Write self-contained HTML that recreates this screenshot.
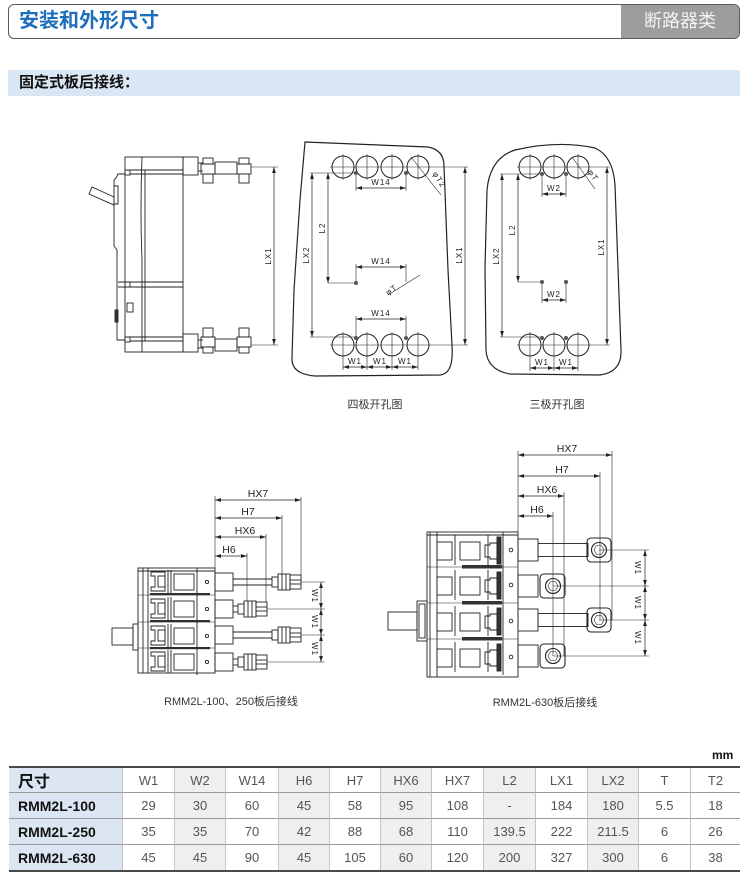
<!DOCTYPE html>
<html><head><meta charset="utf-8">
<style>
*{margin:0;padding:0;box-sizing:border-box}
body{width:750px;height:890px;background:#fff;position:relative;overflow:hidden;font-family:"Liberation Sans","Noto Sans CJK SC",sans-serif}
.hdr{position:absolute;left:8px;top:4px;width:732px;height:35px;border:1px solid #5a5a5a;border-radius:6px;overflow:hidden}
.hdr .t{position:absolute;left:10px;top:0;line-height:33px;font-size:20px;font-weight:bold;color:#1f6ebd;font-family:"Liberation Sans","Noto Sans CJK SC",sans-serif}
.hdr .g{position:absolute;right:0;top:0;width:118px;height:33px;background:#9c9d9f;color:#f2f2f2;font-size:18px;line-height:33px;text-align:center}
.band{position:absolute;left:8px;top:70px;width:732px;height:26px;background:#d9e6f3}
.band span{position:absolute;left:11px;top:0;line-height:26px;font-size:15px;font-weight:bold;color:#111}
svg{position:absolute;left:0;top:0}
.mm{position:absolute;left:712px;top:748px;font-size:12px;font-weight:bold;color:#111}
.tb{position:absolute;left:9px;top:766px;width:731px;border-top:2px solid #4a4a4a;border-bottom:2px solid #4a4a4a;display:grid;grid-template-columns:113px 52px 51px 53px 51px 51px 51px 52px 52px 52px 51px 52px 50px;grid-template-rows:25px 26px 26px 25px}
.tb div{border-left:1px solid #c4c4c4;border-bottom:1px solid #9a9a9a;font-size:13px;color:#555;display:flex;align-items:center;justify-content:center}
.tb .f{background:#dce6f2;border-left:none;justify-content:flex-start;padding-left:9px;font-weight:bold;color:#111;font-size:14px}
.tb .h{font-size:16px}
.tb .s{background:#efefef}
.tb .l{border-bottom:none}
</style></head>
<body>
<div class="hdr"><div class="t">安装和外形尺寸</div><div class="g">断路器类</div></div>
<div class="band"><span>固定式板后接线：</span></div>

<svg width="750" height="890" viewBox="0 0 750 890">
<defs>
<marker id="ar" viewBox="0 0 8 6" refX="8" refY="3" markerWidth="6" markerHeight="4.5" markerUnits="userSpaceOnUse" orient="auto-start-reverse"><path d="M0,0.5 L8,3 L0,5.5 z" fill="#222"/></marker>
<g id="pa">
 <path d="M151 4 h14 v19 h-14 v-4 h4 v-11 h-4 z"/>
 <rect x="158" y="8" width="7" height="11"/>
 <line x1="168" y1="2" x2="168" y2="25"/>
 <line x1="171" y1="2" x2="171" y2="25"/>
 <rect x="174" y="6" width="20" height="16"/>
 <line x1="197" y1="0" x2="197" y2="27"/>
 <circle cx="207" cy="14" r="1.6"/>
</g>
<g id="pb">
 <rect x="437" y="10" width="15" height="18"/>
 <line x1="455" y1="3" x2="455" y2="33"/>
 <rect x="460" y="10" width="20" height="18"/>
 <line x1="488" y1="3" x2="488" y2="33"/>
 <path d="M485 13 h5 v-2 h7 v16 h-7 v-2 h-5 z"/>
 <rect x="497" y="5" width="4" height="27" fill="#333"/>
 <line x1="503" y1="0" x2="503" y2="36"/>
 <circle cx="511" cy="18" r="1.8"/>
</g>
<g id="nl">
 <rect x="0" y="-5" width="6" height="10"/>
 <rect x="6" y="-8" width="12" height="16"/>
 <line x1="10" y1="-8" x2="10" y2="8"/>
 <line x1="14" y1="-8" x2="14" y2="8"/>
 <rect x="18" y="-7" width="11" height="14"/>
 <line x1="18" y1="-2" x2="29" y2="-2"/>
 <line x1="18" y1="2" x2="29" y2="2"/>
</g>
</defs>

<g stroke="#222" stroke-width="0.9" fill="none">
<!-- ===== Side view ===== -->
<rect x="125" y="157" width="58" height="195"/>
<path d="M142 157 Q140 210 142 260 L142 352"/>
<line x1="145" y1="170" x2="145" y2="341"/>
<line x1="125" y1="170" x2="183" y2="170"/>
<line x1="130" y1="174" x2="183" y2="174"/>
<line x1="118" y1="282" x2="183" y2="282"/>
<line x1="118" y1="287" x2="183" y2="287"/>
<line x1="125" y1="337" x2="183" y2="337"/>
<line x1="130" y1="341" x2="183" y2="341"/>
<rect x="125" y="170" width="5" height="5"/>
<rect x="125" y="282" width="5" height="5"/>
<rect x="125" y="337" width="5" height="5"/>
<path d="M125 174 L118 174 L116 178 L114 180 L114 246 L117 250 L117 340 L125 340"/>
<path d="M114 186 L118 186 L118 204 L114 204"/>
<polygon points="89,194 92,187 114,197 114,205"/>
<rect x="127" y="303" width="6" height="9"/>
<rect x="115" y="310" width="3" height="12" fill="#333"/>
<rect x="183" y="157" width="15" height="18"/>
<rect x="183" y="334" width="15" height="18"/>
<line x1="198" y1="163" x2="203" y2="163"/><line x1="198" y1="171" x2="203" y2="171"/>
<rect x="203" y="158" width="10" height="6"/><rect x="201" y="164" width="14" height="10"/><rect x="203" y="174" width="10" height="9"/>
<rect x="215" y="162" width="22" height="12"/>
<rect x="239" y="158" width="10" height="6"/><rect x="237" y="164" width="14" height="10"/><rect x="239" y="174" width="10" height="9"/>
<line x1="198" y1="340" x2="203" y2="340"/><line x1="198" y1="348" x2="203" y2="348"/>
<rect x="203" y="328" width="10" height="9"/><rect x="201" y="337" width="14" height="10"/><rect x="203" y="347" width="10" height="6"/>
<rect x="215" y="339" width="22" height="12"/>
<rect x="239" y="328" width="10" height="9"/><rect x="237" y="337" width="14" height="10"/><rect x="239" y="347" width="10" height="6"/>
<line x1="251" y1="167" x2="278" y2="167" stroke-width="0.6"/>
<line x1="251" y1="345" x2="278" y2="345" stroke-width="0.6"/>
<line x1="274" y1="167" x2="274" y2="345" stroke-width="0.7" marker-start="url(#ar)" marker-end="url(#ar)"/>

<!-- ===== Four-pole ===== -->
<path d="M305 142 L428 147 Q444 150 444 166 L448 270 L452 345 Q454 374 440 375 L315 376 Q291 374 292 358 L294 290 L300 200 Z" stroke-width="1.2"/>
<g stroke-width="1">
<circle cx="343" cy="167" r="11"/><circle cx="367" cy="167" r="11"/><circle cx="392" cy="167" r="11"/><circle cx="418" cy="167" r="11"/>
<circle cx="343" cy="345" r="11"/><circle cx="367" cy="345" r="11"/><circle cx="392" cy="345" r="11"/><circle cx="418" cy="345" r="11"/>
</g>
<g stroke-width="0.6">
<line x1="330" y1="167" x2="468" y2="167"/>
<line x1="330" y1="345" x2="468" y2="345"/>
<line x1="343" y1="154" x2="343" y2="180"/><line x1="367" y1="154" x2="367" y2="180"/><line x1="392" y1="154" x2="392" y2="180"/><line x1="418" y1="154" x2="418" y2="180"/>
<line x1="343" y1="332" x2="343" y2="370"/><line x1="367" y1="332" x2="367" y2="370"/><line x1="392" y1="332" x2="392" y2="370"/><line x1="418" y1="332" x2="418" y2="370"/>
<line x1="310" y1="173" x2="356" y2="173"/>
<line x1="310" y1="337" x2="356" y2="337"/>
<line x1="356" y1="175" x2="356" y2="191"/><line x1="406" y1="175" x2="406" y2="191"/>
<line x1="356" y1="336" x2="356" y2="316"/><line x1="406" y1="336" x2="406" y2="316"/>
<line x1="328" y1="283" x2="356" y2="283"/>
<line x1="356" y1="283" x2="356" y2="264"/><line x1="406" y1="264" x2="406" y2="282"/>
<line x1="411" y1="157" x2="441" y2="195"/>
<line x1="388" y1="295" x2="420" y2="275"/>
</g>
<g stroke-width="0.7" marker-start="url(#ar)" marker-end="url(#ar)">
<line x1="356" y1="188" x2="406" y2="188"/>
<line x1="356" y1="267" x2="406" y2="267"/>
<line x1="356" y1="319" x2="406" y2="319"/>
<line x1="312" y1="173" x2="312" y2="337"/>
<line x1="328" y1="173" x2="328" y2="283"/>
<line x1="465" y1="167" x2="465" y2="345"/>
<line x1="343" y1="367" x2="367" y2="367"/>
<line x1="367" y1="367" x2="392" y2="367"/>
<line x1="392" y1="367" x2="418" y2="367"/>
</g>
<g fill="#555" stroke="none"><circle cx="356" cy="173" r="2"/><circle cx="406" cy="173" r="2"/><circle cx="356" cy="338" r="2"/><circle cx="406" cy="338" r="2"/><circle cx="356" cy="283" r="2"/></g>

<!-- ===== Three-pole ===== -->
<path d="M515 150 Q558 140 595 148 Q613 156 615 185 L618 268 L621 350 Q622 372 600 375 L510 374 Q487 370 486 350 L485 268 L487 190 Q490 158 515 150 Z" stroke-width="1.2"/>
<g stroke-width="1">
<circle cx="530" cy="167" r="11"/><circle cx="554" cy="167" r="11"/><circle cx="578" cy="167" r="11"/>
<circle cx="530" cy="345" r="11"/><circle cx="554" cy="345" r="11"/><circle cx="578" cy="345" r="11"/>
</g>
<g stroke-width="0.6">
<line x1="517" y1="167" x2="610" y2="167"/>
<line x1="517" y1="345" x2="610" y2="345"/>
<line x1="530" y1="154" x2="530" y2="180"/><line x1="554" y1="154" x2="554" y2="180"/><line x1="578" y1="154" x2="578" y2="180"/>
<line x1="530" y1="332" x2="530" y2="371"/><line x1="554" y1="332" x2="554" y2="371"/><line x1="578" y1="332" x2="578" y2="371"/>
<line x1="500" y1="174" x2="542" y2="174"/>
<line x1="500" y1="337" x2="542" y2="337"/>
<line x1="542" y1="176" x2="542" y2="197"/><line x1="566" y1="176" x2="566" y2="197"/>
<line x1="518" y1="282" x2="542" y2="282"/>
<line x1="542" y1="284" x2="542" y2="303"/><line x1="566" y1="284" x2="566" y2="303"/>
<line x1="572" y1="157" x2="595" y2="189"/>
</g>
<g stroke-width="0.7" marker-start="url(#ar)" marker-end="url(#ar)">
<line x1="542" y1="194" x2="566" y2="194"/>
<line x1="542" y1="300" x2="566" y2="300"/>
<line x1="502" y1="174" x2="502" y2="337"/>
<line x1="518" y1="174" x2="518" y2="282"/>
<line x1="607" y1="167" x2="607" y2="345"/>
<line x1="530" y1="368" x2="554" y2="368"/>
<line x1="554" y1="368" x2="578" y2="368"/>
</g>
<g fill="#555" stroke="none"><circle cx="542" cy="174" r="2"/><circle cx="566" cy="174" r="2"/><circle cx="542" cy="282" r="2"/><circle cx="566" cy="282" r="2"/><circle cx="542" cy="338" r="2"/><circle cx="566" cy="338" r="2"/></g>

<!-- ===== RMM2L-100/250 ===== -->
<rect x="138" y="568" width="77" height="105"/>
<line x1="138" y1="571" x2="215" y2="571"/>
<line x1="143" y1="568" x2="143" y2="673"/>
<line x1="148" y1="568" x2="148" y2="673"/>
<use href="#pa" transform="translate(0,568)"/>
<use href="#pa" transform="translate(0,595)"/>
<use href="#pa" transform="translate(0,622)"/>
<use href="#pa" transform="translate(0,648)"/>
<g fill="#333" stroke="none">
<rect x="150" y="593" width="60" height="2.2"/>
<rect x="150" y="620" width="60" height="2.2"/>
<rect x="150" y="647" width="60" height="2.2"/>
</g>
<line x1="138" y1="595" x2="215" y2="595" stroke-width="0.6"/>
<line x1="138" y1="622" x2="215" y2="622" stroke-width="0.6"/>
<line x1="138" y1="648" x2="215" y2="648" stroke-width="0.6"/>
<rect x="112" y="628" width="21" height="17"/>
<rect x="133" y="624" width="5" height="26"/>
<!-- sleeves & studs -->
<rect x="215" y="573" width="18" height="18"/><rect x="215" y="600" width="18" height="18"/>
<rect x="215" y="626" width="18" height="18"/><rect x="215" y="653" width="18" height="18"/>
<line x1="233" y1="579" x2="272" y2="579"/><line x1="233" y1="585" x2="272" y2="585"/>
<line x1="233" y1="606" x2="238" y2="606"/><line x1="233" y1="612" x2="238" y2="612"/>
<line x1="233" y1="632" x2="272" y2="632"/><line x1="233" y1="638" x2="272" y2="638"/>
<line x1="233" y1="659" x2="238" y2="659"/><line x1="233" y1="665" x2="238" y2="665"/>
<use href="#nl" transform="translate(272,582)"/>
<use href="#nl" transform="translate(238,609)"/>
<use href="#nl" transform="translate(272,635)"/>
<use href="#nl" transform="translate(238,662)"/>
<g stroke-width="0.6">
<line x1="215" y1="496" x2="215" y2="568"/>
<line x1="301" y1="497" x2="301" y2="575"/>
<line x1="282" y1="515" x2="282" y2="574"/>
<line x1="266" y1="534" x2="266" y2="602"/>
<line x1="247" y1="553" x2="247" y2="601"/>
<line x1="301" y1="582" x2="325" y2="582"/>
<line x1="267" y1="609" x2="325" y2="609"/>
<line x1="301" y1="635" x2="325" y2="635"/>
<line x1="267" y1="662" x2="325" y2="662"/>
</g>
<g stroke-width="0.7" marker-start="url(#ar)" marker-end="url(#ar)">
<line x1="215" y1="500" x2="301" y2="500"/>
<line x1="215" y1="518" x2="282" y2="518"/>
<line x1="215" y1="537" x2="266" y2="537"/>
<line x1="215" y1="556" x2="247" y2="556"/>
<line x1="321" y1="582" x2="321" y2="609"/>
<line x1="321" y1="609" x2="321" y2="635"/>
<line x1="321" y1="635" x2="321" y2="662"/>
</g>

<!-- ===== RMM2L-630 ===== -->
<rect x="427" y="532" width="91" height="145"/>
<line x1="427" y1="535" x2="518" y2="535"/>
<line x1="430" y1="532" x2="430" y2="677"/>
<line x1="437" y1="532" x2="437" y2="677"/>
<use href="#pb" transform="translate(0,532)"/>
<use href="#pb" transform="translate(0,567)"/>
<use href="#pb" transform="translate(0,603)"/>
<use href="#pb" transform="translate(0,639)"/>
<line x1="427" y1="567" x2="518" y2="567" stroke-width="0.6"/>
<line x1="427" y1="603" x2="518" y2="603" stroke-width="0.6"/>
<line x1="427" y1="639" x2="518" y2="639" stroke-width="0.6"/>
<g fill="#333" stroke="none">
<rect x="462" y="565" width="40" height="3.5"/>
<rect x="462" y="601" width="40" height="3.5"/>
<rect x="462" y="637" width="40" height="3.5"/>
</g>
<rect x="388" y="612" width="29" height="18"/>
<rect x="417" y="601" width="10" height="40"/>
<rect x="419" y="604" width="6" height="34"/>
<!-- sleeves -->
<rect x="518" y="539" width="20" height="22"/>
<rect x="518" y="575" width="20" height="22"/>
<rect x="518" y="609" width="20" height="22"/>
<rect x="518" y="645" width="20" height="22"/>
<!-- bars & terminals -->
<rect x="538" y="543.5" width="50" height="13"/>
<rect x="538" y="613.5" width="50" height="13"/>
<g stroke-width="1.1">
<rect x="587" y="538" width="24" height="24" rx="4"/>
<rect x="587" y="608" width="24" height="24" rx="4"/>
<rect x="540" y="574" width="25" height="24" rx="4"/>
<rect x="540" y="644" width="25" height="24" rx="4"/>
<circle cx="599" cy="550" r="7.5"/><circle cx="599" cy="620" r="7.5"/>
<circle cx="553" cy="586" r="7.5"/><circle cx="553" cy="656" r="7.5"/>
</g>
<g stroke-width="0.6">
<polygon points="594,550 596.5,545.5 601.5,545.5 604,550 601.5,554.5 596.5,554.5"/>
<polygon points="594,620 596.5,615.5 601.5,615.5 604,620 601.5,624.5 596.5,624.5"/>
<polygon points="548,586 550.5,581.5 555.5,581.5 558,586 555.5,590.5 550.5,590.5"/>
<polygon points="548,656 550.5,651.5 555.5,651.5 558,656 555.5,660.5 550.5,660.5"/>
<line x1="518" y1="451" x2="518" y2="532"/>
<line x1="612" y1="451" x2="612" y2="620"/>
<line x1="600" y1="472" x2="600" y2="620"/>
<line x1="564" y1="492" x2="564" y2="656"/>
<line x1="553" y1="512" x2="553" y2="656"/>
<line x1="599" y1="550" x2="649" y2="550"/>
<line x1="553" y1="586" x2="649" y2="586"/>
<line x1="599" y1="620" x2="649" y2="620"/>
<line x1="553" y1="656" x2="649" y2="656"/>
</g>
<g stroke-width="0.7" marker-start="url(#ar)" marker-end="url(#ar)">
<line x1="518" y1="455" x2="612" y2="455"/>
<line x1="518" y1="476" x2="600" y2="476"/>
<line x1="518" y1="496" x2="564" y2="496"/>
<line x1="518" y1="516" x2="553" y2="516"/>
<line x1="645" y1="550" x2="645" y2="586"/>
<line x1="645" y1="586" x2="645" y2="620"/>
<line x1="645" y1="620" x2="645" y2="656"/>
</g>
</g>

<!-- ===== Labels ===== -->
<g font-family="Liberation Sans, sans-serif" font-size="8" fill="#222" text-anchor="middle" letter-spacing="1">
<text transform="translate(271,256) rotate(-90)">LX1</text>
<text x="381" y="185">W14</text>
<text x="381" y="264">W14</text>
<text x="381" y="316">W14</text>
<text transform="translate(309,255) rotate(-90)">LX2</text>
<text transform="translate(325,228) rotate(-90)">L2</text>
<text transform="translate(462,255) rotate(-90)">LX1</text>
<text transform="translate(437,181) rotate(58)">φT2</text>
<text transform="translate(393,292) rotate(-35)">φT</text>
<text x="355" y="364">W1</text>
<text x="380" y="364">W1</text>
<text x="405" y="364">W1</text>
<text x="554" y="191">W2</text>
<text x="554" y="297">W2</text>
<text transform="translate(499,256) rotate(-90)">LX2</text>
<text transform="translate(515,230) rotate(-90)">L2</text>
<text transform="translate(604,247) rotate(-90)">LX1</text>
<text transform="translate(591,177) rotate(55)">φT</text>
<text x="542" y="365">W1</text>
<text x="566" y="365">W1</text>
</g>
<g font-family="Liberation Sans, sans-serif" font-size="10.5" fill="#222" text-anchor="middle">
<text x="258" y="497">HX7</text>
<text x="248" y="515">H7</text>
<text x="245" y="534">HX6</text>
<text x="229" y="553">H6</text>
<text x="567" y="452">HX7</text>
<text x="562" y="473">H7</text>
<text x="547" y="493">HX6</text>
<text x="537" y="513">H6</text>
</g>
<g font-family="Liberation Sans, sans-serif" font-size="8" fill="#222" text-anchor="middle" letter-spacing="1">
<text transform="translate(312,596) rotate(90)">W1</text>
<text transform="translate(312,622) rotate(90)">W1</text>
<text transform="translate(312,649) rotate(90)">W1</text>
<text transform="translate(635,568) rotate(90)">W1</text>
<text transform="translate(635,603) rotate(90)">W1</text>
<text transform="translate(635,638) rotate(90)">W1</text>
</g>
<g font-family="Liberation Sans, 'Noto Sans CJK SC', sans-serif" font-size="11" fill="#333" text-anchor="middle">
<text x="375" y="408">四极开孔图</text>
<text x="557" y="408">三极开孔图</text>
<text x="231" y="705">RMM2L-100、250板后接线</text>
<text x="545" y="706">RMM2L-630板后接线</text>
</g>
</svg>

<div class="mm">mm</div>
<div class="tb">
<div class="f h">尺寸</div><div>W1</div><div class="s">W2</div><div>W14</div><div class="s">H6</div><div>H7</div><div class="s">HX6</div><div>HX7</div><div class="s">L2</div><div>LX1</div><div class="s">LX2</div><div>T</div><div>T2</div>
<div class="f">RMM2L-100</div><div>29</div><div class="s">30</div><div>60</div><div class="s">45</div><div>58</div><div class="s">95</div><div>108</div><div class="s">-</div><div>184</div><div class="s">180</div><div>5.5</div><div>18</div>
<div class="f">RMM2L-250</div><div>35</div><div class="s">35</div><div>70</div><div class="s">42</div><div>88</div><div class="s">68</div><div>110</div><div class="s">139.5</div><div>222</div><div class="s">211.5</div><div>6</div><div>26</div>
<div class="f l">RMM2L-630</div><div class="l">45</div><div class="s l">45</div><div class="l">90</div><div class="s l">45</div><div class="l">105</div><div class="s l">60</div><div class="l">120</div><div class="s l">200</div><div class="l">327</div><div class="s l">300</div><div class="l">6</div><div class="l">38</div>
</div>
</body></html>
